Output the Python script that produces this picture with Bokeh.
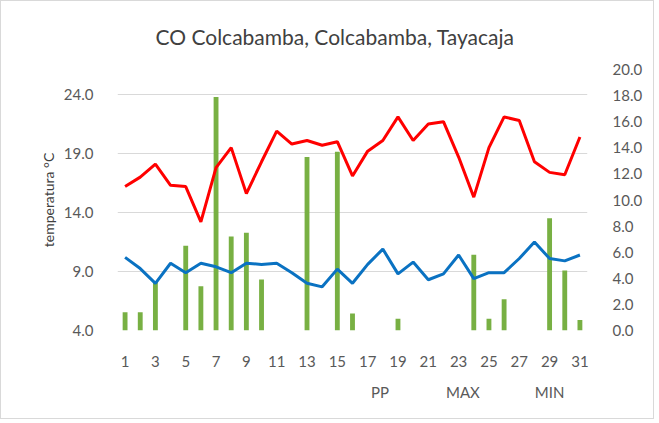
from bokeh.plotting import figure
from bokeh.layouts import column
from bokeh.models import (Range1d, LinearAxis, FixedTicker, Legend, LegendItem,
                          Title, NumeralTickFormatter, ColumnDataSource)
from bokeh.embed import file_html
from bokeh.resources import INLINE

days = list(range(1, 32))
pp = [1.4, 1.4, 3.8, 0.0, 6.5, 3.4, 17.9, 7.2, 7.5, 3.9, 0.0, 0.0, 13.3, 0.0, 13.7, 1.3,
      0.0, 0.0, 0.9, 0.0, 0.0, 0.0, 0.0, 5.8, 0.9, 2.4, 0.0, 0.0, 8.6, 4.6, 0.8]
tmax = [16.2, 17.0, 18.1, 16.3, 16.2, 13.2, 17.8, 19.5, 15.6, 18.3, 20.9, 19.8, 20.1, 19.7,
        20.0, 17.1, 19.2, 20.1, 22.1, 20.1, 21.5, 21.7, 18.7, 15.3, 19.5, 22.1, 21.8, 18.3,
        17.4, 17.2, 20.4]
tmin = [10.2, 9.25, 8.0, 9.7, 8.9, 9.7, 9.4, 8.9, 9.7, 9.6, 9.7, 8.9, 8.0, 7.7, 9.2, 8.0,
        9.6, 10.9, 8.8, 9.8, 8.3, 8.8, 10.4, 8.4, 8.9, 8.9, 10.1, 11.5, 10.1, 9.9, 10.4]
x_ticks = list(range(1, 32, 2))
left_ticks = [4, 9, 14, 19, 24]
right_ticks = list(range(0, 21, 2))
title_text = "CO Colcabamba, Colcabamba, Tayacaja"
y_label = "temperatura °C"
series_names = ["PP", "MAX", "MIN"]

src = ColumnDataSource(dict(day=days, pp=pp, tmax=tmax, tmin=tmin))

FONT = "Lato"
GRAY = "#595959"
C_PP, C_MAX, C_MIN = "#78b043", "#ff0000", "#0a72c2"

p = figure(frame_width=470, frame_height=261, output_backend="svg", toolbar_location=None,
           x_range=Range1d(0.5, 31.5), y_range=Range1d(4, 26.12),
           min_border_left=116, min_border_right=66, min_border_top=68,
           min_border_bottom=46, x_axis_location=None, y_axis_location=None)
p.outline_line_color = None
p.background_fill_color = "white"
p.border_fill_color = "white"
p.extra_y_ranges = {"pp": Range1d(0, 20)}

# title
p.title = Title(text=title_text, align="left", offset=38, standoff=41,
                text_font=FONT, text_font_size="21px", text_font_style="normal",
                text_color="#404040")

# axes
xax = LinearAxis(ticker=FixedTicker(ticks=x_ticks))
yax = LinearAxis(ticker=FixedTicker(ticks=left_ticks),
                 formatter=NumeralTickFormatter(format="0.0"), axis_label=y_label)
rax = LinearAxis(y_range_name="pp", ticker=FixedTicker(ticks=right_ticks),
                 formatter=NumeralTickFormatter(format="0.0"))
for ax in (xax, yax, rax):
    ax.axis_line_color = None
    ax.major_tick_line_color = None
    ax.minor_tick_line_color = None
    ax.major_label_text_font = FONT
    ax.major_label_text_font_size = "15px"
    ax.major_label_text_color = GRAY
xax.major_label_standoff = 19
yax.major_label_standoff = 18
rax.major_label_standoff = 19
yax.axis_label_text_font = FONT
yax.axis_label_text_font_size = "14px"
yax.axis_label_text_font_style = "normal"
yax.axis_label_text_color = "#404040"
yax.axis_label_standoff = 4
p.add_layout(xax, "below")
p.add_layout(yax, "left")
p.add_layout(rax, "right")

p.xgrid.visible = False
p.ygrid.ticker = FixedTicker(ticks=left_ticks)
p.ygrid.grid_line_color = "#d9d9d9"
p.ygrid.grid_line_width = 1

p.vbar(x="day", top="pp", bottom=0, width=0.32, source=src,
       y_range_name="pp", fill_color=C_PP, line_color=None)
p.line(x="day", y="tmax", source=src, line_color=C_MAX, line_width=3)
p.line(x="day", y="tmin", source=src, line_color=C_MIN, line_width=3)

# legend strip below the chart (legend keys only, no data drawn here)
lg = figure(width=652, height=42, output_backend="svg", toolbar_location=None,
            x_range=Range1d(0, 1), y_range=Range1d(0, 1),
            min_border_left=0, min_border_right=0, min_border_top=0,
            min_border_bottom=0, x_axis_location=None, y_axis_location=None)
lg.outline_line_color = None
lg.grid.visible = False
lg.background_fill_color = "white"
lg.border_fill_color = "white"
empty = ColumnDataSource(dict(day=[], pp=[], tmax=[], tmin=[]))
k_pp = lg.vbar(x="day", top="pp", width=0.3, source=empty, fill_color=C_PP, line_color=None)
k_max = lg.line(x="day", y="tmax", source=empty, line_color=C_MAX, line_width=3)
k_min = lg.line(x="day", y="tmin", source=empty, line_color=C_MIN, line_width=3)

legend = Legend(items=[LegendItem(label=series_names[0], renderers=[k_pp]),
                       LegendItem(label=series_names[1], renderers=[k_max]),
                       LegendItem(label=series_names[2], renderers=[k_min])],
                location=(214, 17), orientation="horizontal",
                glyph_width=35, glyph_height=6, label_height=16,
                label_standoff=5, spacing=15, padding=0, margin=0,
                border_line_color=None, background_fill_alpha=0)
legend.label_text_font = FONT
legend.label_text_font_size = "15px"
legend.label_text_color = GRAY
lg.add_layout(legend, "center")

layout = column(p, lg, spacing=0)
layout.styles = {"border": "1px solid #d9d9d9"}

open("out.html", "w").write(file_html(layout, INLINE))
